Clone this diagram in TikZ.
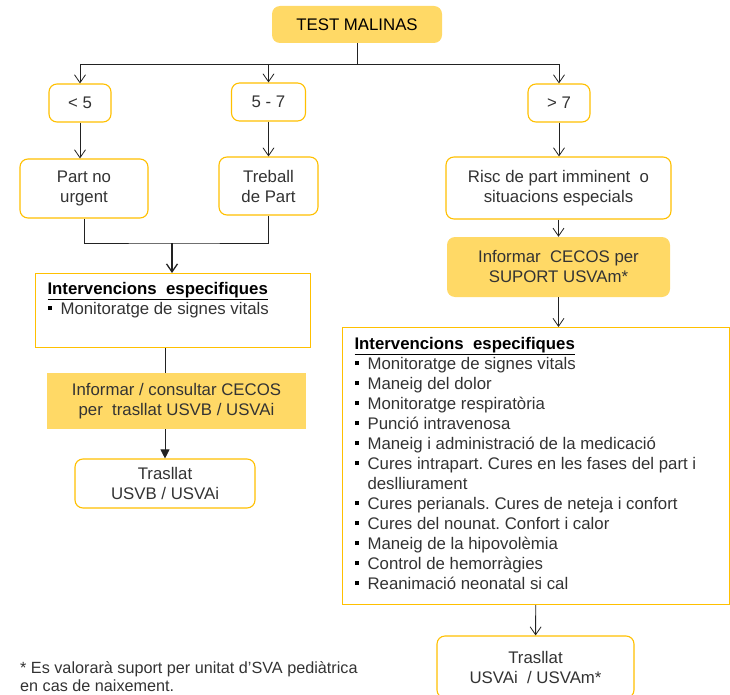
\documentclass[tikz,border=0pt]{standalone}
\usepackage{fontspec}
\setmainfont{Liberation Sans}
\usetikzlibrary{arrows.meta, positioning}
\frenchspacing

\definecolor{malgold}{HTML}{FFC000}
\definecolor{malfill}{HTML}{FFD966}
\definecolor{malink}{HTML}{333333}
\definecolor{malline}{HTML}{222222}

% square bullet with hanging indent for the lists
\newcommand{\sqitem}[1]{\par\hangindent=13pt\hangafter=1%
  \makebox[13pt][l]{\color{black}\rule[0.27em]{4pt}{4pt}}#1}

\begin{document}
\begin{tikzpicture} [x=1pt, y=-1pt,
			on grid,
			font=\fontsize{16.8}{20}\selectfont,
			text=malink,
			every node/.style={inner sep=0pt},
			outlinebox/.style={draw=malgold, line width=1.1pt, rounded corners=8pt, fill=white, align=center},
			goldbox/.style={fill=malfill, rounded corners=8pt, align=center},
			goldplain/.style={fill=malfill, align=center},
			listbox/.style={draw=malgold, line width=1.1pt, anchor=north west, inner xsep=12pt, inner ysep=0pt},
			line/.style={draw=malline, line width=0.8pt},
			link/.style={line, -{Straight Barb[length=8pt, width=11pt]}},
			merge/.style={line, line width=1.3pt, -{Straight Barb[length=8pt, width=11pt]}},
			filledlink/.style={line, -{Triangle[length=9pt, width=9pt]}},
		]
		\useasboundingbox (0,0) rectangle (730,695);

		% Test
		\node (test) [goldbox, text=black,
			minimum width=170pt, minimum height=37pt] at (357,24.5) {TEST MALINAS};
		% Scores
		\node (lt5) [outlinebox,
			minimum width=62pt, minimum height=38pt] at (80,103) {< 5};
		\node (mid) [outlinebox,
			minimum width=74pt, minimum height=38pt] at (268.5,102) {5 - 7};
		\node (gt7) [outlinebox,
			minimum width=62pt, minimum height=38pt] at (559,103) {> 7};
		% Situations
		\node (partno) [outlinebox,
			minimum width=128pt, minimum height=59pt] at (84,188.5) {Part no\\urgent};
		\node (treball) [outlinebox,
			below = 84pt of mid,
			minimum width=99pt, minimum height=58pt] {Treball\\de Part};
		\node (risc) [outlinebox,
			below = 85pt of gt7, xshift=-0.5pt,
			minimum width=225pt, minimum height=62pt] {Risc de part imminent~ o\\situacions especials};
		\node (suport) [goldbox,
			below = 79pt of risc,
			minimum width=223pt, minimum height=60pt] {Informar~ CECOS per\\SUPORT USVAm*};

		% Left branch
		\node (intL) [listbox] at (35,273) {%
			\begin{minipage}[t][74pt][t]{251pt}
				\vspace*{9pt}
				{\color{black}\bfseries\underline{Intervencions~ especifiques}}
				\sqitem{Monitoratge de signes vitals}
			\end{minipage}};
		\node (infoL) [goldplain,
			minimum width=259pt, minimum height=56pt] at (176.5,401) {Informar / consultar CECOS\\per~ trasllat USVB / USVAi};
		\node (trasL) [outlinebox,
			minimum width=180pt, minimum height=49pt] at (165,483.5) {Trasllat\\USVB / USVAi};

		% Right branch
		\node (intR) [listbox] at (342,327) {%
			\begin{minipage}[t][277pt][t]{363pt}
				\vspace*{10pt}
				{\color{black}\bfseries\underline{Intervencions~ especifiques}}
				\sqitem{Monitoratge de signes vitals}
				\sqitem{Maneig del dolor}
				\sqitem{Monitoratge respiratòria}
				\sqitem{Punció intravenosa}
				\sqitem{Maneig i administració de la medicació}
				\sqitem{Cures intrapart. Cures en les fases del part i\\deslliurament}
				\sqitem{Cures perianals. Cures de neteja i confort}
				\sqitem{Cures del nounat. Confort i calor}
				\sqitem{Maneig de la hipovolèmia}
				\sqitem{Control de hemorràgies}
				\sqitem{Reanimació neonatal si cal}
			\end{minipage}};
		\node (trasR) [outlinebox,
			minimum width=197pt, minimum height=62pt] at (535.5,667) {Trasllat\\USVAi~ / USVAm*};

		% Footnote
		\node (note) [anchor=north west, align=left,
			font=\fontsize{16.2}{18}\selectfont] at (20,661)
			{* Es valorarà suport per unitat d'SVA pediàtrica\\en cas de naixement.};

		% Arrows
		\coordinate (busL) at (80,64);
		\coordinate (busR) at (559,64);
		\coordinate (join) at (172,243);
		\draw [line] (test.south) -- (test.south |- busL);
		\draw [line] (busL) -- (busR);
		\draw [link] (busL) -- (lt5);
		\draw [link] (mid |- busL) -- (mid);
		\draw [link] (busR) -- (gt7);
		\draw [link] (lt5) -- (lt5 |- partno.north);
		\draw [link] (mid) -- (treball);
		\draw [link] (gt7) -- (gt7 |- risc.north);
		\draw [link] (risc) -- (suport);
		\draw [line] (partno) |- (join) -| (treball);
		\draw [merge] (join) -- (join |- intL.north);
		\draw [line] (intL.south -| trasL) -- (infoL.north -| trasL);
		\draw [filledlink] (infoL.south -| trasL) -- (trasL);
		\draw [link] (suport) -- (suport |- intR.north);
		\draw [link] (intR) -- (trasR);
	\end{tikzpicture}
\end{document}
